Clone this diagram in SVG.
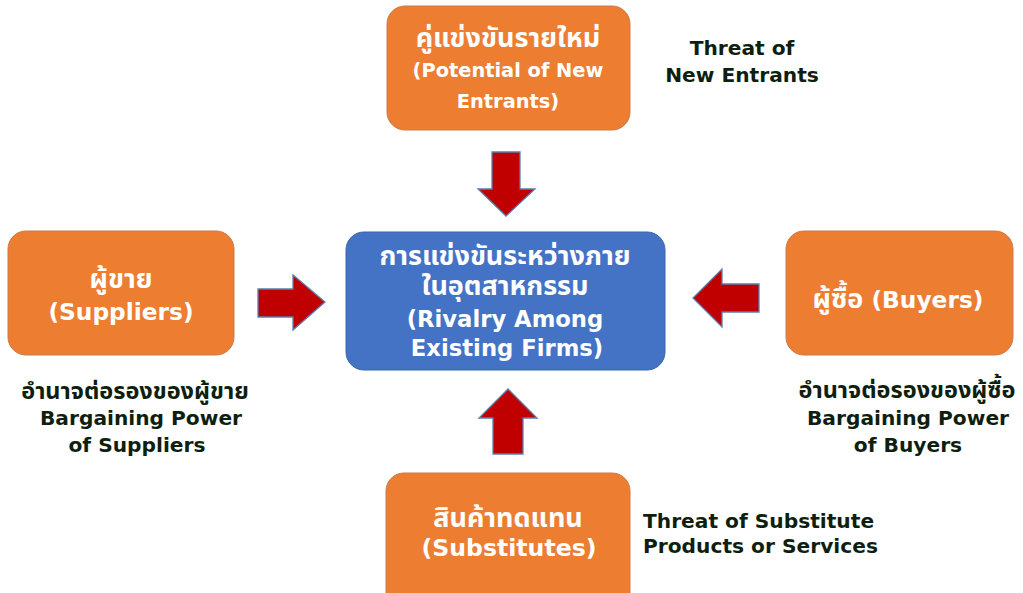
<svg xmlns="http://www.w3.org/2000/svg" width="1023" height="593" viewBox="0 0 1023 593">
<style>
.box{fill:#ED7D31;stroke:#C97A48;stroke-width:1}
.center{fill:#4472C4;stroke:#3B64AE;stroke-width:1}
.arr{fill:#C00000;stroke:#5B7FB0;stroke-width:1.3;stroke-linejoin:miter}
.wt{font-family:"DejaVu Sans","Noto Sans Thai","Noto Sans",sans-serif;font-weight:bold;fill:#FFFFFF;text-anchor:middle;font-size:20px}
.lb{font-family:"DejaVu Sans","Noto Sans Thai","Noto Sans",sans-serif;font-weight:bold;fill:#0F1F0F;font-size:20.2px}
.th{font-size:27px}
.thl{font-size:23.5px}
.mid{text-anchor:middle}
</style>
<rect width="1023" height="593" fill="#FFFFFF"/>
<g id="connectors">
<path class="arr" d="M492,152 L520,152 L520,189 L535,189 L506,216 L478,189 L492,189 Z"/>
<path class="arr" d="M258,289 L293,289 L293,275 L325,302 L293,330 L293,317 L258,317 Z"/>
<path class="arr" d="M759,284 L722,284 L722,269 L693,298 L722,327 L722,312 L759,312 Z"/>
<path class="arr" d="M493,454 L523,454 L523,418 L537,418 L508,389 L479,418 L493,418 Z"/>
</g>
<g id="new-entrants">
<rect class="box" x="387" y="6" width="243" height="124" rx="18"/>
<text class="wt th" x="508" y="47">คู่แข่งขันรายใหม่</text>
<text class="wt" x="508" y="77" style="font-size:19.4px">(Potential of New</text>
<text class="wt" x="508" y="108" style="font-size:19.4px">Entrants)</text>
<text class="lb mid" x="742" y="55">Threat of</text>
<text class="lb mid" x="742" y="82">New Entrants</text>
</g>
<g id="suppliers">
<rect class="box" x="8" y="231" width="226" height="124" rx="18"/>
<text class="wt th" x="121" y="288">ผู้ขาย</text>
<text class="wt" x="121" y="320" style="font-size:23.3px">(Suppliers)</text>
<text class="lb thl mid" x="135" y="399">อำนาจต่อรองของผู้ขาย</text>
<text class="lb mid" x="141" y="425">Bargaining Power</text>
<text class="lb mid" x="137" y="452">of Suppliers</text>
</g>
<g id="rivalry">
<rect class="center" x="346" y="232" width="319" height="138" rx="18"/>
<text class="wt th" x="505" y="265">การแข่งขันระหว่างภาย</text>
<text class="wt th" x="505" y="295">ในอุตสาหกรรม</text>
<text class="wt" x="505" y="327" style="font-size:22.7px">(Rivalry Among</text>
<text class="wt" x="507" y="356" style="font-size:22.7px">Existing Firms)</text>
</g>
<g id="buyers">
<rect class="box" x="786" y="231" width="227" height="124" rx="18"/>
<text class="wt" x="898" y="308" style="font-size:23.3px"><tspan style="font-size:27px">ผู้ซื้อ</tspan> (Buyers)</text>
<text class="lb thl mid" x="907" y="398">อำนาจต่อรองของผู้ซื้อ</text>
<text class="lb mid" x="908" y="425">Bargaining Power</text>
<text class="lb mid" x="908" y="452">of Buyers</text>
</g>
<g id="substitutes">
<rect class="box" x="386" y="473" width="244" height="140" rx="18"/>
<text class="wt th" x="508" y="527">สินค้าทดแทน</text>
<text class="wt" x="509" y="556" style="font-size:23.6px">(Substitutes)</text>
<text class="lb" x="643" y="528">Threat of Substitute</text>
<text class="lb" x="643" y="553">Products or Services</text>
</g>
</svg>
